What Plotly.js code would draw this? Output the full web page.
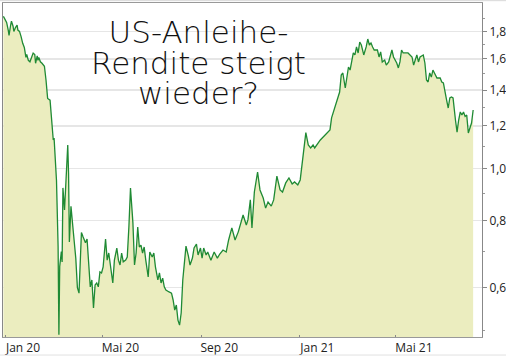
<!DOCTYPE html>
<html><head><meta charset="utf-8">
<script src="https://cdn.plot.ly/plotly-3.0.1.min.js"></script>
<style>html,body{margin:0;padding:0;background:#fff}#chart{width:506px;height:357px}</style>
</head><body><div id="chart"></div>
<script>
const dates = [
"2019-12-30","2020-01-02","2020-01-03","2020-01-05","2020-01-06","2020-01-08","2020-01-09","2020-01-11","2020-01-12","2020-01-14",
"2020-01-16","2020-01-17","2020-01-19","2020-01-21","2020-01-22","2020-01-23","2020-01-25","2020-01-27","2020-01-28","2020-01-30",
"2020-02-01","2020-02-03","2020-02-05","2020-02-07","2020-02-08","2020-02-10","2020-02-11","2020-02-12","2020-02-14","2020-02-16",
"2020-02-19","2020-02-21","2020-02-23","2020-02-26","2020-02-27","2020-03-01","2020-03-02","2020-03-03","2020-03-05","2020-03-07",
"2020-03-08","2020-03-09","2020-03-11","2020-03-12","2020-03-13","2020-03-15","2020-03-19","2020-03-20","2020-03-21","2020-03-23",
"2020-03-25","2020-03-26","2020-03-29","2020-03-31","2020-04-02","2020-04-05","2020-04-07","2020-04-10","2020-04-12","2020-04-14",
"2020-04-16","2020-04-18","2020-04-20","2020-04-22","2020-04-24","2020-04-26","2020-04-28","2020-04-30","2020-05-02","2020-05-05",
"2020-05-07","2020-05-09","2020-05-11","2020-05-14","2020-05-16","2020-05-19","2020-05-21","2020-05-23","2020-05-25","2020-05-27",
"2020-05-30","2020-06-01","2020-06-03","2020-06-05","2020-06-08","2020-06-10","2020-06-12","2020-06-14","2020-06-16","2020-06-18",
"2020-06-20","2020-06-22","2020-06-24","2020-06-27","2020-06-29","2020-07-02","2020-07-04","2020-07-06","2020-07-09","2020-07-11",
"2020-07-13","2020-07-15","2020-07-17","2020-07-19","2020-07-23","2020-07-26","2020-07-28","2020-07-30","2020-08-01","2020-08-03",
"2020-08-05","2020-08-07","2020-08-09","2020-08-11","2020-08-13","2020-08-16","2020-08-18","2020-08-21","2020-08-23","2020-08-26",
"2020-08-28","2020-08-31","2020-09-02","2020-09-04","2020-09-07","2020-09-09","2020-09-13","2020-09-17","2020-09-21","2020-09-24",
"2020-09-28","2020-10-02","2020-10-05","2020-10-09","2020-10-13","2020-10-17","2020-10-20","2020-10-23","2020-10-27","2020-10-29",
"2020-11-01","2020-11-03","2020-11-06","2020-11-10","2020-11-13","2020-11-17","2020-11-20","2020-11-23","2020-11-27","2020-11-30",
"2020-12-04","2020-12-08","2020-12-11","2020-12-15","2020-12-19","2020-12-23","2020-12-26","2020-12-30","2021-01-02","2021-01-06",
"2021-01-09","2021-01-12","2021-01-15","2021-01-18","2021-01-20","2021-01-27","2021-02-02","2021-02-08","2021-02-10","2021-02-12",
"2021-02-14","2021-02-16","2021-02-18","2021-02-20","2021-02-22","2021-02-24","2021-02-27","2021-03-01","2021-03-03","2021-03-05",
"2021-03-07","2021-03-09","2021-03-11","2021-03-13","2021-03-15","2021-03-17","2021-03-19","2021-03-21","2021-03-22","2021-03-25",
"2021-03-27","2021-03-29","2021-03-31","2021-04-02","2021-04-04","2021-04-08","2021-04-10","2021-04-12","2021-04-14","2021-04-17",
"2021-04-19","2021-04-22","2021-04-24","2021-04-26","2021-04-28","2021-04-30","2021-05-02","2021-05-04","2021-05-06","2021-05-08",
"2021-05-10","2021-05-12","2021-05-16","2021-05-21","2021-05-23","2021-05-25","2021-05-27","2021-05-29","2021-05-31","2021-06-04",
"2021-06-06","2021-06-08","2021-06-10","2021-06-12","2021-06-14","2021-06-16","2021-06-19","2021-06-21","2021-06-25","2021-06-27",
"2021-06-29","2021-07-01","2021-07-03","2021-07-05","2021-07-07","2021-07-09","2021-07-11","2021-07-14","2021-07-16","2021-07-18",
"2021-07-20","2021-07-22","2021-07-24","2021-07-26","2021-07-28","2021-07-30","2021-08-01","2021-08-03","2021-08-05"
];
const yields = [
1.92,1.89,1.87,1.81,1.77,1.85,1.88,1.84,1.80,1.83,
1.85,1.81,1.80,1.76,1.72,1.71,1.68,1.61,1.63,1.59,
1.58,1.61,1.64,1.63,1.57,1.62,1.59,1.61,1.58,1.57,
1.55,1.46,1.35,1.34,1.29,1.13,1.14,1.06,0.95,0.715,
0.49,0.657,0.70,0.67,0.92,0.837,1.106,0.98,0.73,0.85,
0.80,0.76,0.68,0.60,0.586,0.76,0.746,0.727,0.739,0.667,
0.602,0.62,0.55,0.607,0.612,0.602,0.642,0.639,0.656,0.739,
0.675,0.696,0.656,0.612,0.675,0.711,0.675,0.661,0.696,0.670,
0.675,0.684,0.778,0.92,0.792,0.661,0.696,0.778,0.714,0.72,
0.696,0.714,0.675,0.628,0.699,0.684,0.696,0.656,0.62,0.639,
0.612,0.625,0.602,0.594,0.589,0.586,0.569,0.545,0.557,0.522,
0.511,0.538,0.62,0.67,0.717,0.687,0.661,0.681,0.711,0.723,
0.69,0.711,0.681,0.711,0.69,0.699,0.675,0.699,0.681,0.693,
0.705,0.699,0.736,0.775,0.736,0.762,0.795,0.819,0.785,0.802,
0.874,0.775,0.904,0.985,0.912,0.881,0.844,0.866,0.851,0.874,
0.968,0.912,0.904,0.94,0.96,0.936,0.944,0.932,0.952,1.083,
1.166,1.106,1.092,1.106,1.092,1.13,1.154,1.18,1.242,1.269,
1.302,1.324,1.353,1.388,1.493,1.506,1.412,1.48,1.545,1.525,
1.572,1.641,1.627,1.684,1.641,1.72,1.698,1.648,1.627,1.684,
1.742,1.698,1.713,1.684,1.662,1.662,1.613,1.648,1.579,1.592,
1.558,1.579,1.613,1.662,1.613,1.592,1.572,1.539,1.579,1.662,
1.641,1.641,1.641,1.613,1.558,1.592,1.627,1.579,1.613,1.627,
1.572,1.461,1.449,1.506,1.48,1.525,1.493,1.474,1.474,1.449,
1.443,1.40,1.341,1.296,1.353,1.359,1.353,1.231,1.169,1.231,
1.274,1.258,1.274,1.25,1.258,1.164,1.19,1.215,1.285
];
const yTickVals = [0.6,0.8,1.0,1.2,1.4,1.6,1.8];
const yTickText = ["0,6","0,8","1,0","1,2","1,4","1,6","1,8"];
const yMinorVals = [0.5,0.7,0.9,1.1,1.3,1.5,1.7,1.9];
const xTickVals = ["2020-01-01","2020-05-01","2020-09-01","2021-01-01","2021-05-01"];
const xTickText = ["Jan 20","Mai 20","Sep 20","Jan 21","Mai 21"];
const titleLines = ["US-Anleihe-","Rendite steigt","wieder?"];

const trace = {
  x: dates, y: yields, type: "scatter", mode: "lines",
  fill: "tozeroy", fillcolor: "#EBEDBF",
  line: {color: "#1F8A34", width: 1.3},
  hoverinfo: "skip"
};

const titleText = titleLines.map(t => '<span style="font-size:31px">' + t + '</span>').join('<br>');

const layout = {
  width: 506, height: 357,
  margin: {l: 3, r: 24, t: 3, b: 20, pad: 0},
  paper_bgcolor: "#fff", plot_bgcolor: "#fff",
  showlegend: false,
  xaxis: {
    type: "date", range: ["2019-12-29 12:00", "2021-08-16"],
    tickmode: "array", tickvals: xTickVals, ticktext: xTickText,
    ticks: "inside", ticklen: 2, tickcolor: "#888",
    ticklabelshift: 18,
    showgrid: false, zeroline: false,
    showline: true, linecolor: "#999", linewidth: 1, mirror: true,
    tickfont: {family: "Open Sans", size: 12, color: "#222"}
  },
  yaxis: {
    type: "log", side: "right",
    range: [Math.log10(0.4855), Math.log10(2.033)],
    tickmode: "array", tickvals: yTickVals, ticktext: yTickText,
    ticks: "outside", ticklen: 4, tickcolor: "#888",
    minor: {tickmode: "array", tickvals: yMinorVals, ticks: "outside", ticklen: 2, tickcolor: "#999", showgrid: false},
    showgrid: true, gridcolor: "#E6E6E6", gridwidth: 1.5,
    zeroline: false,
    showline: true, linecolor: "#888", linewidth: 1, mirror: true,
    tickfont: {family: "Open Sans", size: 12, color: "#222"}
  },
  annotations: [{
    text: titleText, xref: "paper", yref: "paper", x: 0.409, y: 0.823,
    xanchor: "center", yanchor: "middle", align: "center", showarrow: false,
    font: {family: "DejaVu Sans", size: 23.5, weight: 200, color: "#111"}
  }],
  shapes: [
    {type: "line", xref: "paper", yref: "paper", x0: -0.01, x1: 1.06, y0: -0.054, y1: -0.054, line: {color: "#E2E2E2", width: 1}},
    {type: "line", xref: "paper", yref: "paper", x0: -0.01, x1: 1.06, y0: 1.007, y1: 1.007, line: {color: "#D8D8D8", width: 1}}
  ]
};

Plotly.newPlot("chart", [trace], layout, {displayModeBar: false, staticPlot: true});
</script>
</body></html>
